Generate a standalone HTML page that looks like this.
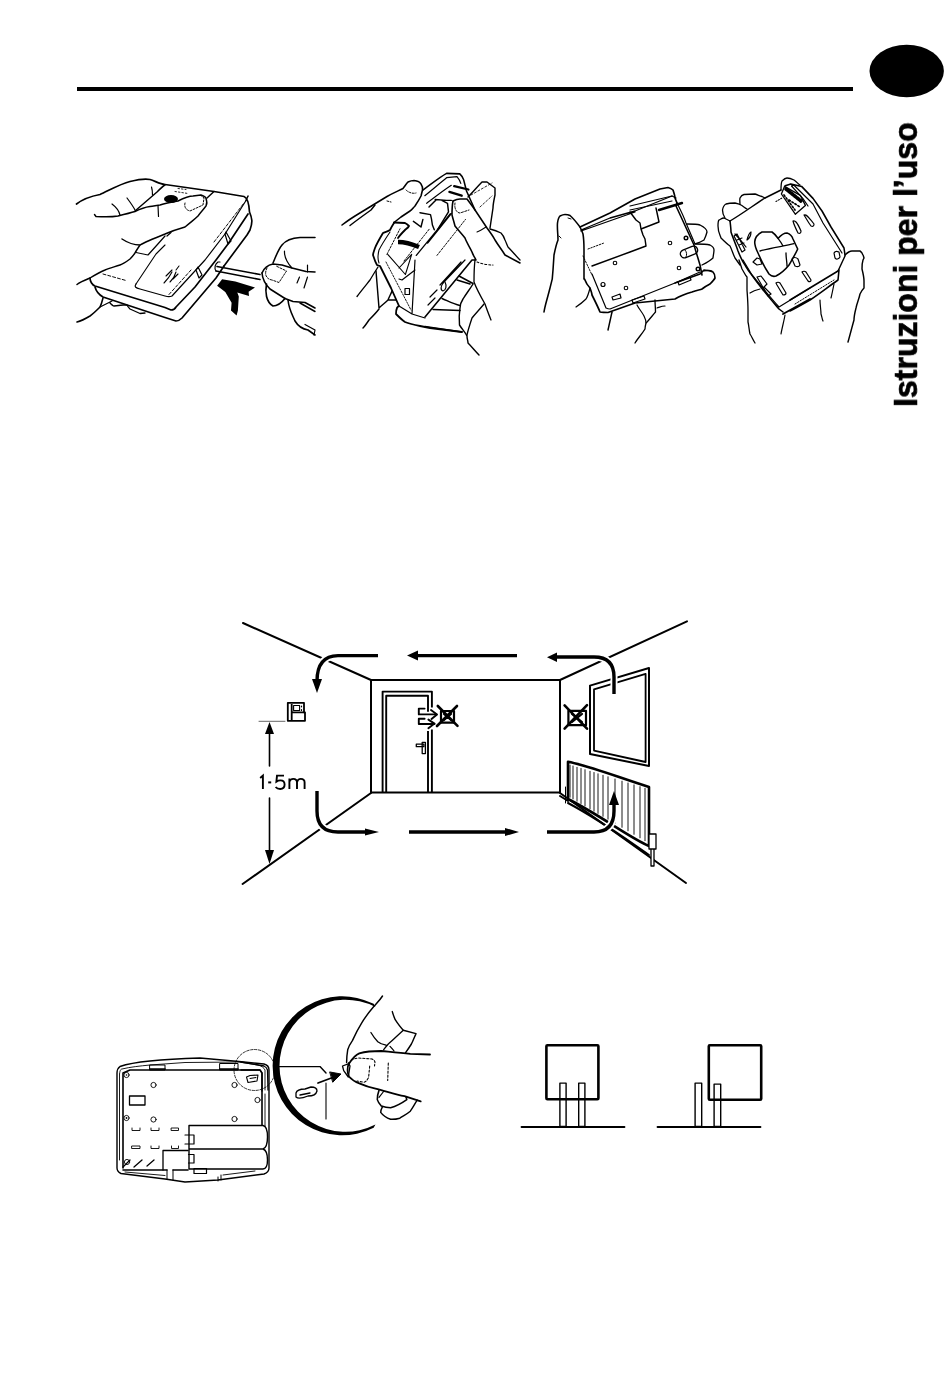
<!DOCTYPE html>
<html><head><meta charset="utf-8">
<style>
html,body{margin:0;padding:0;background:#fff;}
body{width:950px;height:1382px;position:relative;overflow:hidden;font-family:"Liberation Sans",sans-serif;}
svg{position:absolute;left:0;top:0;}
.vt{position:absolute;will-change:transform;font-weight:bold;font-size:34px;line-height:1;-webkit-text-stroke:0.7px #000;color:#000;white-space:nowrap;transform-origin:0 0;}
</style></head><body>
<svg width="950" height="1382" viewBox="0 0 950 1382" fill="none" stroke="#000" stroke-linecap="round" stroke-linejoin="round">
<!-- header -->
<rect x="77" y="87" width="776" height="4" fill="#000" stroke="none"/>
<ellipse cx="906.7" cy="71" rx="37.2" ry="26.3" fill="#000" stroke="none"/>

<!-- ILL1 -->
<g id="ill1" stroke-width="1.44">
<!-- hand top -->
<path d="M76.5,204 C83,199 92,196 100,194.5 C108,191 120,184 130,181.5 C138,179.5 146,178.5 150,179.5 C155,181 160,184 165,184.5 L214,191.5 L244,196.5 C248,198 249,204 249.5,212 C252,218 253,222 250,230 L247,235 L224,266" stroke-width="1.68"/>
<path d="M94.5,214.5 L96,216.5 C104,217 112,217 118,216 C126,214 130,213 135,211.5 C140,209 146,207 150,206.5 C154,206 158,205 160,205 C166,203 172,202 178,201 C184,198 190,196 193,196 L201,195 C204,196 206,197 206,198.5 C207,201 207,204 206,206 C203,210 200,213 198,216 C195,219 192,221 185,227 C178,229 172,231 165,234 C155,238 145,242 140,245"/>
<path d="M112,204 C116,207 119,211 120,215 M127,198 C130,202 133,206 135,210 M151.5,187 C152.5,190 152.5,193 152.5,195 M158,205.5 L158.5,216.5" stroke-width="1.2"/>
<path d="M135,211 C142,205 150,198 157,192 C160,189 163,186 165,185 M207,198 L214,191.5"/>
<path d="M122,239 C128,243 134,245 140,245 M140,245 C138,248 136,251 135,253 C133,256 131,258 130,259 C126,262 123,264 120,265 C114,267 109,268 105,270 C100,272 95,275 90,278 C85,280 80,282 77,284.5"/>
<path d="M136,252.5 L148,255 L157,245 L165,236 M171,232.5 L167,236" stroke-width="1.2"/>
<path d="M185,203 C184,207 186,210 190,211 L203,205 L204,198 L201,195.5" stroke-width="0.96" stroke-dasharray="2 1.5"/>
<path d="M175,191.5 L188,193.5 M178,188.5 L186,189.5" stroke-width="0.84" stroke-dasharray="1.5 2"/>
<ellipse cx="171" cy="199" rx="7" ry="4" fill="#000" stroke="none"/>
<!-- thermostat body -->
<path d="M90,278 C90,281 92,285 95,286 L165,307.5 L171,310 C173,310 175,309 176,307 L195,287 L216,260 L228,244 L248,214" stroke-width="1.68"/>
<path d="M95,287 C96,291 98,294 103,297 L165,317.5 L176,321 C178,321 180,320 182,318 L216,278 L224,266" stroke-width="1.68"/>
<path d="M246,200.5 L248,196" stroke-width="1.44"/>
<path d="M103,274 L126,280.5 M169,294.5 L191,270 M214,242 L244,203" stroke-width="0.96" stroke-dasharray="3 2"/>
<path d="M136,284 C134,287 136,288 140,289 L165,296 C168,297 170,297 172,296 L205,260 L225,234 L246,200.5" stroke-width="1.2"/>
<path d="M136,284 L156,254 L165,245" stroke-width="1.08"/>
<path d="M196,270 L199,278 L202,275 L198,267 Z M225,234 L228,244 L231,241 L226,232 Z" stroke-width="1.2"/>
<!-- fingers below -->
<path d="M103,298 C102,302 101,305 100,307 C96,311 93,314 90,316 C85,319 81,321 77,322" stroke-width="1.56"/>
<path d="M100,307 L112,301 M110,303 C112,305 113,306 114,306 L123,305 L127,305 C128,307 129,308 130,309 L140,313.5 L145,313" stroke-width="1.32"/>
<!-- Danfoss script -->
<path d="M164,283 C167,280 170,276 172,272 M166,276 L172,270 M170,282 C173,279 175,276 176,272 M173,279 L178,274 M176,270 L179,266" stroke-width="1.08"/>
<!-- screwdriver -->
<path d="M217,266.5 L260,274.5 M216,271 L260,279.5" stroke-width="1.56"/>
<path d="M216,271 C214,268 215,264 218,262 L220,262" stroke-width="1.2"/>
<path d="M217.1,285.8 L222.1,279.2 L235.4,281.4 L255,287.4 L248.6,291.8 L249,295.9 L237.3,292.4 L238.8,296.5 L237.9,310.4 L236.6,315.5 L231,310.4 L231.6,302.8 L225.3,292.1 Z" fill="#000" stroke="none"/>
<!-- screwdriver hand -->
<path d="M273,263 C276,256 278,250 282,245 C286,240 292,238 300,237.5 L315,237.5" stroke-width="1.56"/>
<path d="M262,273 C264,268 268,265 273,264 L282,265 L292,268 L306,271.5 L315,272" stroke-width="1.56"/>
<path d="M262,273 C262.5,280 266,285 270,289 L285,298.5 L293,301.5 L305,302.5 L315,308" stroke-width="1.56"/>
<path d="M300,303 L315,311.5" stroke-width="1.44"/>
<path d="M266.5,284 C265,292 266,302 273,306 C278,306 283,301 285,298.5" stroke-width="1.68"/>
<path d="M288,300 C289,310 293,316 295,321 C298,326 302,329 308,330 L315,335" stroke-width="1.56"/>
<path d="M305,324.5 L315,330 L314,335" stroke-width="1.2"/>
<path d="M267,268 C264,274 266,279 272,280 L279,282.5 L286.5,271 L276,266" stroke-width="0.96" stroke-dasharray="2 1.5"/>
<path d="M284.5,251 C284,258 289,265 292,268 M307.5,265 L307.5,272 M299.5,277 L297,283 M307.5,277 L304,288" stroke-width="1.2"/>
</g>

<!-- ILL2 -->
<g id="ill2" stroke-width="1.44">
<!-- left hand fingers -->
<path d="M342,225 C346,222 350,219 355,216 L373,205 L387,196.5 C393,193 398,191 403,188.5 C405,186 406,184 408,182 C410,181 412,180.5 414,180.5 C418,181 420,182 421,184 C423,187 423,188 422.5,190 C422,192 421.5,194 421,196 C419,200 417,203 415,206 C413,208 412,210 410,211 C407,213 404,215 401,217 L394,222.5" stroke-width="1.56"/>
<path d="M350,225.5 C357,220 364,215 371,210 L375,205"/>
<path d="M406,190 C408,192 412,194 416,193 M387,201 L391,202" stroke-width="0.96" stroke-dasharray="2 1.5"/>
<!-- case left -->
<path d="M394,222.5 L405,223 C407,224 408,225 409,226 C408,228 406,229 405,230 C402,233 400,235 398,238" stroke-width="1.8"/>
<path d="M394,223 C392,226 391,228 390,230 C387,232 385,232 383,233 C380,238 377,243 375,248 C374,251 373,253 373,255 C374,258 375,262 377,265 L380,266 L391,288 L399,306 C398,307 397,307 397,308 C396,310 396,312 396,314 C399,317 402,320 405,322 C410,324 415,325 420,326 L430,328 L462,332" stroke-width="1.8"/>
<path d="M390,232 C386,238 382,244 379,250 C378,254 377,258 379,263" stroke-width="1.08"/>
<path d="M398,242 C405,242 412,244 419,247" stroke-width="4.5" stroke-linecap="butt"/>
<path d="M415,260 L412,314 M399,279 L402,280 L415,270 M399,306 L412,314 L425,318" stroke-width="1.2"/>
<path d="M405,288.5 h4.5 v6 h-4.5 Z" stroke-width="1.2"/>
<!-- left hand lower -->
<path d="M357,296.5 C361,291 366,285 370,280 C373,275 376,270 378,267" stroke-width="1.32"/>
<path d="M376,271 L379,308 C382,305 385,303 388,300 C389,297 391,294 392,291 M388,300 L396,300" stroke-width="1.44"/>
<path d="M379,309 C376,313 372,317 369,320 C367,323 365,326 363,328" stroke-width="1.44"/>
<!-- case top -->
<path d="M422.9,190 C430,185 440,177 446.6,173.4 L459.8,173.9 C461.5,175.5 463,177.5 463.6,179.6 C464.5,183 465.5,187 466.5,191 L475,210" stroke-width="1.56"/>
<path d="M424.8,195.7 C432,190 440,183 446.6,177.7 L457,176.7 C458.5,178.5 460,181 460.8,183.4 M426.7,203.3 C435,197 444,190 451.3,185.3" stroke-width="1.2"/>
<path d="M435.2,199.5 L446.6,200.4 L451.3,200.4 M441.8,200.4 L447.5,203.3 L448.5,211.8 L438,228.8 M429,207 L436,200" stroke-width="1.44"/>
<path d="M416.3,255.4 L438,228.8 L450.4,213.7 M427.6,243 L451.3,213.7" stroke-width="1.32"/>
<path d="M420,212.7 L430.5,214.6 C431.5,218 432,222 432.4,225 L434.3,229.8 M422.9,219.4 L421,227 M413.4,221.3 C416,223 418.5,225 421,227" stroke-width="1.44"/>
<path d="M404,261 L429.5,228.8 M437,255.4 L465.5,219.4 M386.9,254.4 L400,228.8" stroke-width="0.96" stroke-dasharray="2 1.5"/>
<path d="M454.2,186.2 L468.4,189.5 M449.4,191.9 L461.7,195.7" stroke-width="2.3"/>
<path d="M386,262 L411,310" stroke-width="0.9" stroke-dasharray="1.6 1.4"/>
<path d="M387.7,254.3 L405.4,274.5 L411.7,254.3 M399,268 L411.7,254.3" stroke-width="1.08"/>
<!-- right thumb and hand -->
<path d="M453,201 C452,206 452,211 452,215 C453,219 454,222 455,226 C458,230 462,234 465,238 C467,243 470,248 472,252 C473,255 475,258 476,260 L472,260 L425,317" stroke-width="1.56"/>
<path d="M453,201 C455,200 458,199 460,199 L467,199 C470,203 473,207 475,210 C479,216 483,222 487,228 C490,232 493,236 495,240 C498,245 502,250 505,255 L520,263" stroke-width="1.56"/>
<path d="M455,203 C454,209 457,213 460,213 L469,210" stroke-width="0.96" stroke-dasharray="2 1.5"/>
<path d="M468,197 C473,192 477,187 482,182 L487,182 L495,188 L495,195 C494,200 493,204 493,208 C492,215 491,221 490,228" stroke-width="1.44"/>
<path d="M471,195 L492,183 M480,207 L492,196" stroke-width="0.84" stroke-dasharray="2 2"/>
<path d="M490,229 C494,230 497,231 501,233 C503,235 504,237 505,240 C506,242 507,245 508,247 C512,251 516,256 520,260" stroke-width="1.32"/>
<path d="M477,232 C480,231 483,229 486,227" stroke-width="1.08"/>
<path d="M465,260 L443,283 M461,262 L440,285" stroke-width="1.2"/>
<path d="M477,262 C482,264 488,265 493,265" stroke-width="1.08" stroke-dasharray="2 2"/>
<path d="M475,260 C474,268 474,275 474,282 C477,290 481,297 485,304 C487,310 489,315 491,320" stroke-width="1.32"/>
<path d="M473,284 C470,289 466,294 463,299 C461,302 460,305 460,308 C459,314 459,320 459.5,325 C462,329 465,332 467,336 C467,339 468,341 468,343 C472,347 475,351 479,355" stroke-width="1.44"/>
<path d="M484,304 C480,309 476,313 472,318 C470,324 468,330 467,335" stroke-width="1.32"/>
<path d="M459,276 L473,283.5 M457,280 L470,284 M442,298.5 C448,301 453,304 460,305.5 M433,309.5 L460,310.5 M425,326.5 L462,332" stroke-width="1.44"/>
<path d="M443,283 C441,286 440,290 443,291 C446,290 447,286 445,282 M437,290 L430,297 M435,298 L428,305" stroke-width="1.2"/>
</g>

<!-- ILL3 -->
<g id="ill3" stroke-width="1.44">
<path d="M544,312 C545,305 547,300 550,288 C552,282 553,278 553,270 L554,255 C555,250 556,245 558,240 C558,234 557,228 557.5,223 C558,219 559,217 560,216 C562,215 563,214.5 565,214.5 C567,214.5 569,215 570,215.5 C574,219 577,223 580,227 C581,229 582,231 583,234 C584,240 584,245 584,250 L584,279" stroke-width="1.56"/>
<path d="M559,236 L561,238 M568,218 L571,219" stroke-width="0.96"/>
<path d="M580,227 L610,213 L635,199 C645,195 655,191 660,189 L668,187.5 C670,188 672,189 673,190 C674,193 675,196 675,198 L677,203" stroke-width="1.68"/>
<path d="M581,230 L610,218 L635,211 L672,196 M581,231 L635,212" stroke-width="1.32"/>
<path d="M630,206 L672,196 L676,198 M630,210 L672,201" stroke-width="1.2"/>
<path d="M659,210 L682,203" stroke-width="2.4"/>
<path d="M584.5,279 C586,283 588,286 590,288 C591,291 592,293 592,295 C595,301 598,307 600,312 C603,312.5 606,312.5 608,312.5 L635,303 L675,299 C680,296 685,294 692,292 C697,290 700,290 702,289 C706,286 710,284 710,284 C712,282 714,280 715,278 C715,276 714,273 713,272 C710,271 707,270 704,270 L700,274 L675,283" stroke-width="1.68"/>
<path d="M592,274 L606,308 C607,308.5 609,309 610,309 L635,299 L675,283 L700,272" stroke-width="1.2"/>
<path d="M583,256 L592,275" stroke-width="0.96" stroke-dasharray="1.5 1.5"/>
<path d="M677,203 L676,206 C682,219 688,232 694,245 C696,252 698,258 700,265 L702,275" stroke-width="1.56"/>
<path d="M678,205 C681,211 684,217 686,223 C689,230 692,237 695,244" stroke-width="1.2"/>
<path d="M630,212 L636,220 L640,223 L641,229 L659,222 L656,208 M641,229 L643,235 L645,239 L646,246 L630,252 L592,266" stroke-width="1.44"/>
<path d="M588,249 L604,243" stroke-width="0.96" stroke-dasharray="1.5 1.5"/>
<circle cx="615" cy="263" r="1.8" stroke-width="1.08"/>
<circle cx="670" cy="243" r="1.8" stroke-width="1.08"/>
<circle cx="679" cy="268" r="1.8" stroke-width="1.08"/>
<circle cx="686" cy="238" r="1.8" stroke-width="1.44"/>
<circle cx="698" cy="269" r="1.8" stroke-width="1.44"/>
<circle cx="603" cy="284.5" r="2" stroke-width="1.2"/>
<circle cx="626" cy="288" r="1.8" stroke-width="1.08"/>
<path d="M612,297 L620,294 L621,298 L613,300 Z" stroke-width="1.2"/>
<rect x="680" y="248" width="18" height="8" rx="4" transform="rotate(-22 689 252)" stroke-width="1.32"/><path d="M685,250 C687,252 687,255 686,257" stroke-width="1"/><path d="M632,300 L644,296 L645,299 L633,303 Z M678,282 L690,277 L691,280 L679,285 Z" stroke-width="1.2"/>
<path d="M590,288 C589,292 588,296 586,299 C583,302 579,305 576,307" stroke-width="1.2"/>
<path d="M612,312 L608,330" stroke-width="1.44"/>
<path d="M687,224 C692,224 697,224 700,225 C704,227 707,230 707,232 C706,236 705,238 704,240 C701,242 698,243 695,244" stroke-width="1.32"/>
<path d="M696,244 C701,244 706,244 710,245 C712,246 714,248 714,250 C714,253 713,256 713,258 C710,261 706,263 702,265" stroke-width="1.32"/>
<path d="M704,271 C708,270 710,270 712,271" stroke-width="1.2"/>
<path d="M655,300 C655,304 655.5,308 655.5,312 C652,316 649,320 646,323 C645.5,325 645,327 645,329 C642,334 638,338 635,343" stroke-width="1.32"/>
<path d="M637,305 C639,309 642,312 644,316 C645,318 646,321 646,323 M657,308 C660,307 662,306 665,306" stroke-width="1.2"/>
</g>
<!-- ILL4 -->
<g id="ill4" stroke-width="1.44">
<path d="M730,221 C742,214 754,205 765,198 L781,190" stroke-width="1.44"/>
<path d="M718,226 C718,223 718,221 719,220 C721,219 722,218 724,218 C726,219 728,220 730,221 M718,226 C718,232 720,235 721,238 C724,241 727,244 730,246 C732,250 733,254 735,258 L740,265" stroke-width="1.32"/>
<path d="M725,218 C723,215 722.5,212 722.5,210 C723,207 724,205 726,204 C729,203 732,203 735,203 C737,203.5 739,204 740,204.5 C743,206 745,208 747,209" stroke-width="1.32"/>
<path d="M740,204.5 C740,202 739.5,200 740,198 C741,196 742,195 744,194.5 L755,194 C758,195 760,196 762,196.5 L765,198" stroke-width="1.32"/>
<path d="M781,190 C781,186 781,183 782,181 C784,179 785,178 787,178 C790,178 792,179 794,180 C797,182 798,184 800,185" stroke-width="1.32"/>
<path d="M785.2,185.8 L790.8,183.9 L801.6,186.4 L813,198.4 L822,211 L831,227 L844,248 L845,255" stroke-width="1.56"/>
<path d="M791.5,185.8 L794,185.2 L813,204 L823,223 L842,253 M791.5,186 L802.8,198.4 L808,206" stroke-width="1.2"/>
<path d="M784.5,186.4 L800.3,195.3 L805.4,205.4 L795.3,214.2 L781.4,194 Z" stroke-width="1.32"/><path d="M786,189 L801,201" stroke-width="3.6" stroke-dasharray="2.2 1.4"/><path d="M784,195 L795,210 M789,200 L800,207" stroke-width="1.68" stroke-dasharray="1.5 2"/>
<path d="M776,201.5 L782,198" stroke-width="1.08" stroke-dasharray="1.2 1.5"/>
<path d="M730,221 C730.5,225 731,229 731,232 C733,238 736,245 738,251 C740,256 742,261 745,265 C746,267 747,268 748,270 C752,275 756,281 760,286 C766,294 773,302 779,309 L783,312" stroke-width="1.56"/>
<path d="M735,234 C739,238 743,243 746,247 M743,260 C746,265 749,270 752,275 C761,286 770,297 779,307 L810,288" stroke-width="1.2"/>
<path d="M783,314 L810,299" stroke-width="1.8"/>
<path d="M754.7,242 C755,238 758,234 762,232 L772,232 C775,234 777,237 778,238.4 C781,235 784,233 787,233 C790,234 792,236 793,239 L797.7,249 C796,253 793,258 789,265 C785,270 780,274 776,276 C773,277 771,276 769,274 C765,268 761,260 758,253 C756,249 754.7,245 754.7,242 Z" stroke-width="1.56"/><path d="M760,251 C770,248 785,246 794,243.7 M778,238.4 C780,241 782,244 783,246 M786,253 C786,258 787,262 787,266" stroke-width="1.32"/><path d="M753,262 L757,258 L760,259 L762,264 L757,265 Z" stroke-width="1.2"/>


<path d="M793,221 C795,220 797,222 801,231 C801,233 800,234 798,233 C796,229 794,225 793,221 Z M804,215 C806,214 808,216 814,224 C814,226 813,227 811,226 C808,222 806,218 804,215 Z" stroke-width="1.2"/>
<path d="M747,240 C748,236 749,233 751,232 C751,235 750,238 747,240 Z" stroke-width="1.2"/>
<path d="M776,283 C777,282 779,282 780,283 L786,293 C786,295 784,295 783,295 L777,285 Z M802,272 C803,271 805,271 806,272 L811,280 C811,282 809,282 808,281 Z M792,259 C793,257 796,257 798,259 L800,265 C799,267 797,267 795,266 Z M834,253 C835,251 837,251 839,252 L840,257 C839,259 836,260 835,258 Z" stroke-width="1.2"/>
<path d="M734,236 L737,234 L745,250 L742,252 Z M737,240 L742,238 M739,245 L744,243" stroke-width="1.2"/><path d="M757,277 L761,276 L767,284 L764,287 L771,294 L768,296 Z" stroke-width="1.2"/>
<path d="M838,271 L845,256 L845,255 C848,252 850,251 852,251 L860,251 C862,252 863,254 864,258 L863,260 C862,263 862,266 862,269 C863,273 864,277 864,281 L864,288 C862,290 861,292 860,294 C859,299 857,303 856,308 C855,312 854,316 854,320 C852,327 850,335 848,342" stroke-width="1.44"/>
<path d="M790,300 L838,271 M790,311 C796,308 803,304 810,300 C819,294 828,287 838,280 L839,270" stroke-width="1.56"/>
<path d="M795,304 L834,280" stroke-width="0.96" stroke-dasharray="1.5 1.5"/>
<path d="M834,284 C833,289 832,294 831,298 M820,300 C820,305 821,310 821,314 C822,317 822,319 823,321" stroke-width="1.2"/>
<path d="M739,260 C740,263 741,266 742,269 C744,272 745,275 747,277 C747,281 747,286 747,290 C747.5,297 748,303 748,310 L748,322 C749,326 749,330 750,334 C752,337 753,340 755,343" stroke-width="1.32"/>
<path d="M750,293 C753,291 756,290 760,289 M785,315 C784,321 782,328 781,334" stroke-width="1.2"/>
</g>

<!-- BASE -->
<g id="base" stroke-width="1.2">
<path d="M117,1168 V1073 C117,1070 118,1068 120,1066.5 C130,1063 140,1062 150,1061 C165,1059.5 185,1058.5 200,1058 L239,1061.5 L264,1064 C268,1065 269,1067 269,1070 V1168 C269,1171 267,1173 264,1174 L218,1180 L185,1182 L165,1179 L121,1173.5 C118,1172 117,1170 117,1168 Z" stroke-width="1.4"/>
<path d="M119.5,1160 V1074 C120,1070 121,1069 122,1069 C130,1067 140,1066 150,1065 L185,1062.5 L239,1062 L258,1065 C262,1066 264,1068 265,1070 V1090 M265,1094 V1126 M125,1172 L165,1175.5 M223,1175 L255,1171" stroke-width="0.9"/>
<path d="M123,1168 V1073 L130,1070 H239 L260,1070 L262,1073 V1125 M123,1170 H163 M163,1170 L167,1170 M173,1170 H188" stroke-width="1.6"/>
<path d="M150,1065 h15 v5 h-15 Z M220,1063.5 h18 v6.5 h-18 Z" stroke-width="1.0"/><path d="M150,1069 h15 M220,1069 h18" stroke-width="1.67"/>
<path d="M167,1170 L167,1179 M173,1170 L173,1180 M218,1177 L218,1181 M221,1175 L221,1180" stroke-width="1.0"/>
<path d="M241,1062 L264,1066 C266,1067 267,1068 267.5,1070 L268,1090 M241,1070 H260 L262,1073 V1091" stroke-width="1.3"/>
<circle cx="254.5" cy="1070" r="20.5" stroke-width="0.8" stroke-dasharray="2.5 1.5"/>
<path d="M246.5,1077 L250,1075.5 L258,1075 L257,1081 L248,1082.5 Z M250,1078.5 L256,1077.5" stroke-width="1.1"/>
<g stroke-width="0.9">
<circle cx="126.5" cy="1075" r="2.6"/><circle cx="153.5" cy="1085" r="2.6"/><circle cx="234.5" cy="1085" r="2.6"/>
<circle cx="257.5" cy="1100" r="2.6"/><circle cx="126.5" cy="1118" r="2.6"/><circle cx="153.5" cy="1119.5" r="2.6"/>
<circle cx="234.5" cy="1119" r="2.6"/><circle cx="127" cy="1162" r="2.6"/>
</g>
<circle cx="126.5" cy="1075" r="0.8" fill="#000" stroke="none"/><circle cx="126.5" cy="1118" r="0.9" fill="#000" stroke="none"/>
<path d="M129.5,1096 H145 V1105 H129.5 Z" stroke-width="1.3"/>
<path d="M132,1128 V1130.5 H140 V1128 M151,1128 V1130.5 H159 V1128 M171.5,1128 H178.5 V1130.5 H171.5 Z M132,1146 H140 V1148.5 H132 Z M151,1146 V1148.5 H159 V1146 M171.5,1146 V1148.5 H178.5 V1146" stroke-width="0.9"/>
<path d="M189,1169 V1125.5 H263 C266,1126 267.5,1130 267.5,1137 C267.5,1144 266,1148 263,1149 H189 M263,1149 C266,1150 267.5,1154 267.5,1160 C267.5,1166 266,1169 263,1169 H189" stroke-width="1.4"/>
<path d="M163,1170 V1150.5 H188" stroke-width="1.3"/>
<path d="M185,1135 h9 v9 h-9 M188.5,1154.5 h5.5 v8.5 h-5.5" stroke-width="1.2"/>
<path d="M194,1168.5 h12.5 v5 h-12.5 Z" stroke-width="1.2"/>
<path d="M123,1167 L130,1160 M134,1167 L142,1160 M147,1166 L154,1160" stroke-width="1.3"/>
</g>
<!-- MAGNIFIER -->
<g id="mag" stroke-width="1.44">
<path d="M373.65,1003.87 A69.5,69.5 0 1 0 373.65,1127.73 L375.46,1124.61 A66,66 0 1 1 375.46,1006.99 Z" fill="#000" stroke="none"/>
<path d="M279,1066.6 H320 L326,1073" stroke-width="1.44"/>
<path d="M318,1083 L334,1077" stroke-width="1.8"/>
<path d="M330,1072 L341,1074 L333,1082 Z" fill="#000" stroke-width="0.96"/>
<path d="M326,1083 V1119" stroke-width="1.08"/>
<path d="M296,1093 C297,1089 302,1089 305,1089 L311,1087 C315,1087 317,1089 317,1091 C316,1095 312,1096 308,1096 C303,1098 298,1099 296,1097 Z M300,1095 L310,1093" stroke-width="1.32"/>
<path d="M382.5,996 C380,1000 377,1003 374.4,1005.8 C370,1011 365,1017 361.6,1023.2 C358,1029 355,1035 352.4,1040.6 C350,1044 348.5,1047 347.7,1049.8 C347,1054 346.6,1058 346.6,1062.6" stroke-width="1.44"/>
<path d="M348.9,1063.7 C352,1059 355,1055 359.3,1053.3 C366,1051.5 374,1051 381.3,1051 C391,1052 400,1053 410.3,1053.9 L430,1054.5" stroke-width="1.8"/>
<path d="M348.9,1063.7 L342.5,1066 L343.7,1070.7 L348.3,1077 L350,1066 Z" stroke-width="1.32"/>
<path d="M348.9,1063 C347,1068 347.5,1073 348.9,1076.5 C352,1080 355,1082 359.3,1083.4 C364,1085.5 370,1087.5 375.5,1088.6 C385,1091 395,1094 404.5,1096.2 L420.7,1101.4" stroke-width="1.8"/>
<path d="M351.2,1060.3 C353,1059 355,1058.5 358.2,1058 L372,1059 C374,1060 375,1061 375,1062.6 L374.5,1066 M369.7,1066 L368.6,1077.6 C367,1080 366,1082 364,1082.3 L357,1081 M388.3,1063 L387.7,1080.5" stroke-width="1.08" stroke-dasharray="2.2 1.8"/>
<path d="M392.3,1011.6 C393,1014 394,1017 395.2,1019.7 C398,1024 400,1027 403.3,1030.2 L416,1033.6 C414.5,1037 413,1041 411.4,1044 C409.5,1047 407.5,1050 405.6,1052.7" stroke-width="1.44"/>
<path d="M403.3,1030.2 C398,1035 393,1040 388.3,1044 C386.5,1046 385,1048 383.6,1049.8 M370.9,1032.5 C373,1036 375,1039 377.8,1041.7 C380,1043.5 383,1044.5 386,1045.2 M390,1046.4 C391.5,1048 393,1049.5 394,1051" stroke-width="1.32"/>
<path d="M379,1090.4 C378,1093 377.3,1096 377.3,1099.6 C378,1102 379.5,1104 381.3,1106 C384,1107 387,1107.7 390.6,1107.7 C397,1106 402,1103 406.8,1099.6 L406,1097" stroke-width="1.56"/>
<path d="M382.5,1106.6 C381.5,1108.5 380.7,1110.5 380.7,1112.4 C383,1115.5 386.5,1118 390.6,1119.3 C394,1119.5 397,1119 399.8,1118.2 C403,1116 407,1114 410.3,1111.2 C412.5,1108 415,1103.5 417.2,1100.2" stroke-width="1.44"/>
<path d="M379,1097.3 L383.6,1091.5" stroke-width="1.2"/>
</g>

<!-- ROOM -->
<g id="room">
<g stroke-width="2">
<path d="M243,623 L371,680"/>
<path d="M560,680 L687,621.4"/>
<path d="M371,793 L242.6,884"/>
<path d="M560,793 L686,883"/>
<path d="M371,680 H560 V792.6 H371 Z"/>
</g>
<!-- door -->
<g stroke-width="1.9" stroke-linecap="butt">
<path d="M382.6,792.6 V691.6 H431.9 V707.6 M431.9,729.4 V792.6"/>
<path d="M386.2,792.6 V695.8 H428 V711.7 M428,731 V792.6"/>
</g>
<g stroke-width="1.3">
<path d="M422.2,742.3 h3.2 v11.3 h-3.2 Z"/>
<path d="M416.3,744.2 h7.6 v2.5 h-7.6 Z"/>
</g>
<g stroke-width="1.9">
<path d="M424.6,708.6 H418.8 V714.4 H436.5"/>
<path d="M431,710 L437,714.4 L431.5,719"/>
<path d="M424.6,718.7 H418.8 V724 H434.5"/>
<path d="M428.4,719.6 L434.5,723.6 L428.4,728.2"/>
</g>
<path d="M441,711 H454 V722.6 H441 Z" stroke-width="2.2"/>
<path d="M437.8,706 L457.5,725.8 M457,706 L437,726" stroke-width="2.6"/>
<path d="M444,714 L451,720 M451,714 L444,720" stroke-width="2.2"/>
<!-- right wall icons -->
<path d="M568.4,710.8 H586 V725.2 H568.4 Z" stroke-width="2.2"/>
<path d="M564.6,705.4 L587,728.7 M587,705.2 L564.6,728.6" stroke-width="2.6"/>
<path d="M572,714 L582,722 M582,714 L572,722" stroke-width="2.2"/>
<!-- picture -->
<path d="M590,685.6 L649,668 V766 L590,754 Z" stroke-width="2"/>
<path d="M594,689.4 L645.6,673.8 V762 L594,750.6 Z" stroke-width="1.8"/>
<!-- radiator -->
<path d="M568,761.8 C590,766 620,778 649,787 V846 C630,838 600,815 568,799 Z" stroke-width="2.6" fill="#fff"/>
<path d="M570.0,765.1 V797.2 M573.0,766.0 V798.9 M577.0,767.3 V801.2 M581.0,768.5 V803.5 M585.0,769.7 V805.9 M590.0,771.3 V808.8 M594.0,772.5 V811.1 M598.0,773.8 V813.4 M603.0,775.3 V816.3 M608.0,776.8 V819.2 M615.0,779.0 V823.3 M622.0,781.2 V827.3 M628.0,783.0 V830.8 M634.0,784.9 V834.3 M640.0,786.7 V837.8 M645.0,788.3 V840.7" stroke-width="0.9"/>
<path d="M560,796 L568,801 M568,803 C600,820 620,835 649,855" stroke-width="2"/>
<path d="M565.5,787 V803" stroke-width="1"/>
<path d="M649,834 h7 v15 h-7 Z M651,849 v17 h3 v-17" stroke-width="1.3" fill="#fff"/>
<!-- arrows -->
<g stroke-width="3.4" stroke-linecap="butt">
<path d="M378,655.6 H338 Q317,656 317,681" stroke="#fff" stroke-width="7"/>
<path d="M378,655.6 H338 Q317,656 317,681"/>
<path d="M517,655.6 H416"/>
<path d="M614,694 V677 Q614,657 594,657 H556" stroke="#fff" stroke-width="7"/>
<path d="M614,694 V677 Q614,657 594,657 H556"/>
<path d="M317,791 V811 Q317,832 338,832 H370" stroke="#fff" stroke-width="7"/>
<path d="M317,791 V811 Q317,832 338,832 H370"/>
<path d="M409,832 H509"/>
<path d="M547,832 H594 Q614,832 614,811 V804" stroke="#fff" stroke-width="7"/>
<path d="M547,832 H594 Q614,832 614,811 V804"/>
</g>
<g fill="#000" stroke="none">
<path d="M312,679 L322,679 L317,693 Z"/>
<path d="M418,650.6 L418,660.6 L407,655.6 Z"/>
<path d="M557,652.4 L557,662 L547,657.2 Z"/>
<path d="M365,828.5 L379,832 L365,835.5 Z"/>
<path d="M505,828 L519,832 L505,836 Z"/>
<path d="M609,805 L619,805 L614,791 Z"/>
<path d="M265,734 L274,734 L269.5,722 Z"/>
<path d="M265,850 L274,850 L269.5,864 Z"/>
</g>
<!-- dimension -->
<path d="M259,721.3 H285" stroke-width="0.9" stroke="#555"/>
<path d="M269.5,730 V766 M269.5,798 V855" stroke-width="1.6"/>
<g stroke-width="1.9" stroke-linecap="butt" stroke-linejoin="miter">
<path d="M260.2,778 L262.9,775.6 V789"/>
<path d="M268.2,782.4 H271.2" stroke-width="2"/>
<path d="M284,775.6 H277 L276.4,781.6 C277.6,780.8 279,780.4 280.4,780.4 C283,780.4 284.6,782.2 284.6,784.6 C284.6,787.4 282.8,789 280.2,789 C278.2,789 276.6,788.2 275.6,787"/>
<path d="M289.4,778.6 V789 M289.4,781.8 C290,780 291.4,778.9 293.2,778.9 C295.6,778.9 297,780.4 297,782.6 V789 M297,782 C297.6,780 299,778.9 300.8,778.9 C303.2,778.9 304.6,780.4 304.6,782.6 V789"/>
</g>
<!-- thermostat icon -->
<g stroke-width="1.8" stroke-linecap="butt">
<path d="M287.8,702.8 H304 V712.3 H305 V720.8 H287.8 Z"/>
<path d="M291.7,704 V720.8 M291.7,712.4 H305"/>
</g>
<path d="M293.6,705.5 h6 v5 h-6 Z" stroke-width="1.1"/>
<path d="M301.5,706 v0.8 M301.5,709.6 v0.8" stroke-width="1.2"/>
</g>

<!-- SQUARES -->
<g id="squares">
<rect x="546.4" y="1045.2" width="52" height="54" stroke-width="2.6" rx="1"/>
<line x1="521.5" y1="1127" x2="624.5" y2="1127" stroke-width="1.8"/>
<path d="M559.9,1126.5 V1083.1 H566.1 V1126.5 Z M578.7,1126.5 V1083.1 H584.9 V1126.5 Z" stroke-width="1.4"/>
<rect x="708.8" y="1045.2" width="52.4" height="54.6" stroke-width="2.6" rx="1"/>
<line x1="657.5" y1="1127" x2="760.5" y2="1127" stroke-width="1.8"/>
<path d="M695.1,1126.5 V1083.1 H701.7 V1126.5 Z M714.1,1126.5 V1084.1 H720.7 V1126.5 Z" stroke-width="1.4"/>
</g>
</svg>
<div class="vt" id="vt" style="left:888px;top:407px;transform:rotate(-90deg) scaleX(0.942);">Istruzioni per l’uso</div>
</body></html>
